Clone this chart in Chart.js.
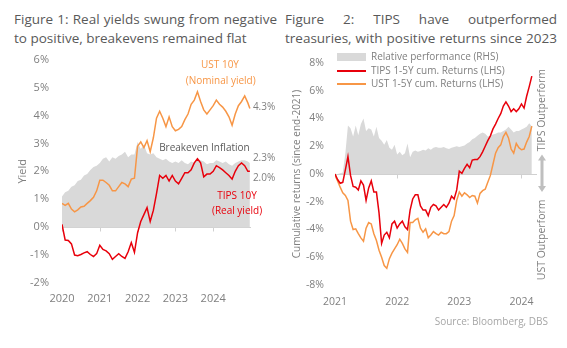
<!DOCTYPE html>
<html>
<head>
<meta charset="utf-8">
<script src="https://cdn.jsdelivr.net/npm/chart.js@4.4.1/dist/chart.umd.min.js"></script>
<style>
  body { margin: 0; width: 567px; height: 348px; background: #fff; font-family: 'Open Sans', sans-serif; position: relative; overflow: hidden; }
  .title { position: absolute; top: 10px; font-size: 13.5px; line-height: 18.5px; color: #595959; }
  .title .j { text-align: justify; text-align-last: justify; white-space: nowrap; }
  .title .l { white-space: nowrap; }
  .box { position: absolute; top: 40px; height: 270px; }
  #legend { position: absolute; left: 337px; top: 50px; font-size: 10px; color: #7f7f7f; }
  #legend .item { position: relative; height: 13.5px; }
  #legend .sw { position: absolute; left: 0; width: 29px; }
  #legend span { position: absolute; left: 34px; top: 0; line-height: 13px; white-space: nowrap; }
  #source { position: absolute; right: 19px; top: 314px; font-size: 10px; color: #a6a6a6; }
</style>
</head>
<body>
<div class="title" style="left:14px;width:263px">
  <div class="j">Figure 1: Real yields swung from negative</div>
  <div class="l">to positive, breakevens remained flat</div>
</div>
<div class="title" style="left:285px;width:272px">
  <div class="j">Figure 2: TIPS have outperformed</div>
  <div class="j">treasuries, with positive returns since 2023</div>
</div>
<div class="box" style="left:0;width:285px"><canvas id="c1" width="285" height="270"></canvas></div>
<div class="box" style="left:283px;width:284px"><canvas id="c2" width="284" height="270"></canvas></div>
<div id="legend"></div>
<div id="source">Source: Bloomberg, DBS</div>
<script>
// Figure 1: monthly, Jan-2020 .. Dec-2024 (last point late Dec)
const leftYears = [2020, 2021, 2022, 2023, 2024];
const ust10y = [
  0.85, 0.78, 0.85, 0.65, 0.55, 0.62, 0.72, 0.75, 0.85, 0.95, 1.07, 1.3,
  1.68, 1.68, 1.6, 1.5, 1.3, 1.3, 1.45, 1.6, 1.55, 1.45, 1.72, 1.75,
  2.9, 3.05, 2.85, 3.1, 2.7, 3.2, 3.9, 4.15, 3.9, 3.6, 3.95, 3.6,
  3.45, 3.5, 3.6, 3.85, 4.05, 4.4, 4.55, 4.85, 4.5, 4.2, 4.05, 4.2,
  4.35, 4.55, 4.4, 4.3, 4.15, 3.95, 3.65, 4.05, 4.35, 4.5, 4.7, 4.45, 4.25
];
const tips10y = [
  0.1, -0.46, -0.48, -0.6, -1.0, -1.02, -0.98, -0.92, -0.88, -0.98, -1.05, -0.95,
  -0.65, -0.8, -0.85, -0.95, -1.15, -1.05, -0.95, -1.05, -1.12, -0.88, -0.55, -0.9,
  -0.2, 0.2, 0.45, 0.7, 0.2, 0.6, 1.2, 1.85, 1.75, 1.85, 1.65, 1.85,
  1.65, 1.55, 1.75, 1.95, 1.95, 2.05, 2.3, 2.45, 2.3, 1.8, 1.9, 1.9,
  2.0, 2.2, 2.13, 2.05, 1.95, 1.85, 1.72, 2.0, 2.2, 2.3, 2.2, 2.0, 2.0
];
const breakeven = [
  1.1, 1.25, 1.3, 1.45, 1.5, 1.65, 1.7, 1.85, 1.9, 2.05, 2.15, 2.2,
  2.3, 2.45, 2.5, 2.35, 2.5, 2.45, 2.55, 2.6, 2.7, 2.5, 2.6, 2.6,
  3.05, 2.8, 2.95, 2.65, 2.6, 2.65, 2.5, 2.45, 2.4, 2.45, 2.35, 2.3,
  2.35, 2.3, 2.4, 2.3, 2.25, 2.35, 2.3, 2.45, 2.4, 2.35, 2.25, 2.3,
  2.3, 2.4, 2.35, 2.3, 2.35, 2.25, 2.2, 2.3, 2.35, 2.4, 2.4, 2.35, 2.3
];
const leftDates = ust10y.map((_, i) => i < 60 ? 2020 + i / 12 : 2024.97);

// Figure 2: semi-monthly, 2021 .. early 2024
const rightYears = [2021, 2022, 2023, 2024];
const tipsRet = [
  0, -0.4, -0.67, -0.6, 0.3, 1.25, -0.1, -0.9, -0.95, -1.15, -0.5, -0.8,
  -1.9, -1.0, -0.5, -1.3, -1.3, -2.8, -5.0, -4.4, -4.2, -4.6, -3.6, -3.4,
  -3.9, -3.6, -3.4, -3.8, -4.0, -2.6, -1.8, -1.5, -1.5, -2.3, -2.6, -2.6,
  -3.0, -2.4, -2.2, -2.3, -2.6, -2.4, -2.2, -2.4, -2.1, -1.6, -1.8, -1.15,
  0.2, 0.05, 0.4, 0.7, 0.45, 1.0, 1.05, 1.05, 1.25, 1.6, 2.0, 2.4,
  2.75, 3.25, 3.6, 4.0, 4.35, 4.9, 5.2, 4.9, 4.5, 4.7, 4.5, 4.7,
  5.05, 4.75, 5.6, 6.3, 7.05
];
const ustRet = [
  0, -0.5, -0.95, -1.35, -1.55, -1.9, -3.4, -4.0, -3.95, -4.3, -4.6, -4.85,
  -3.9, -3.5, -3.6, -4.3, -4.8, -5.5, -6.0, -6.6, -6.8, -6.1, -5.7, -5.4,
  -5.1, -4.7, -5.0, -5.4, -5.65, -3.5, -3.5, -3.3, -3.2, -3.9, -4.2, -3.95,
  -4.6, -4.4, -4.15, -4.3, -4.4, -4.2, -4.3, -4.3, -4.15, -3.4, -3.0, -1.9,
  -1.3, -1.6, -1.35, -1.5, -1.7, -1.55, -1.6, -2.1, -1.4, -1.2, -1.1, -0.6,
  -0.1, 0.7, 1.5, 1.9, 2.1, 2.7, 3.0, 2.6, 1.8, 1.5, 2.2, 1.9,
  1.75, 1.8, 2.3, 2.7, 3.45
];
const relPerf = [
  0, 0, 0.05, 0.1, 1.5, 3.5, 3.3, 2.7, 3.5, 2.8, 3.6, 4.0,
  3.1, 3.3, 3.2, 2.7, 3.4, 2.6, 2.4, 2.1, 2.45, 1.9, 1.75, 2.1,
  1.4, 1.6, 1.35, 1.5, 2.2, 1.2, 1.6, 1.7, 1.6, 1.65, 1.75, 1.7,
  1.85, 1.75, 1.9, 1.95, 1.9, 1.9, 1.95, 1.85, 1.8, 1.9, 1.95, 2.0,
  1.95, 2.0, 2.05, 2.2, 2.3, 2.5, 2.6, 2.75, 2.9, 3.0, 2.9, 2.7,
  2.75, 2.85, 2.9, 3.0, 3.0, 3.1, 3.2, 3.4, 3.2, 3.0, 3.1, 3.1,
  3.2, 3.3, 3.4, 3.65, 3.45
];
const rightDates = tipsRet.map((_, i) => 2021 + i / 24);

const RED = '#e8000b', ORANGE = '#f79646', FILLGREY = '#d9d9d9', TICK = '#7f7f7f';
const FONT = "'Open Sans', sans-serif";

const pts = (xs, ys) => ys.map((v, i) => ({ x: xs[i], y: v }));

// zero line with small year ticks hanging below it
const zeroTicks = {
  id: 'zeroTicks',
  beforeDatasetsDraw(chart) {
    const { ctx, chartArea, scales: { x, y } } = chart;
    const y0 = Math.round(y.getPixelForValue(0)) + 0.5;
    ctx.save();
    ctx.strokeStyle = '#d0d0d0';
    ctx.lineWidth = 1;
    ctx.beginPath();
    ctx.moveTo(chartArea.left, y0);
    ctx.lineTo(chartArea.right, y0);
    x.ticks.forEach(t => {
      const px = Math.round(x.getPixelForValue(t.value)) + 0.5;
      ctx.moveTo(px, y0);
      ctx.lineTo(px, y0 + 4);
    });
    ctx.stroke();
    ctx.restore();
  }
};

// free text labels placed in data coordinates
const notes = {
  id: 'notes',
  afterDatasetsDraw(chart, args, opts) {
    const { ctx, scales: { x, y } } = chart;
    ctx.save();
    ctx.textBaseline = 'middle';
    (opts.items || []).forEach(it => {
      ctx.font = (it.size || 10) + 'px ' + FONT;
      ctx.fillStyle = it.color;
      ctx.textAlign = it.align || 'center';
      const px = x.getPixelForValue(it.x), py = y.getPixelForValue(it.y);
      if (it.rotate) {
        ctx.save();
        ctx.translate(px, py);
        ctx.rotate(-Math.PI / 2);
        ctx.fillText(it.text, 0, 0);
        ctx.restore();
      } else {
        ctx.fillText(it.text, px, py);
      }
    });
    if (opts.arrow) {
      const a = opts.arrow;
      const px = Math.round(x.getPixelForValue(a.x));
      const top = y.getPixelForValue(a.from), bot = y.getPixelForValue(a.to);
      ctx.fillStyle = '#bfbfbf';
      ctx.fillRect(px - 1.5, top + 5, 3, bot - top - 10);
      ctx.beginPath();
      ctx.moveTo(px, top); ctx.lineTo(px + 4, top + 6); ctx.lineTo(px - 4, top + 6); ctx.closePath();
      ctx.moveTo(px, bot); ctx.lineTo(px + 4, bot - 6); ctx.lineTo(px - 4, bot - 6); ctx.closePath();
      ctx.fill();
    }
    ctx.restore();
  }
};

const fixedTicks = vals => scale => { scale.ticks = vals.map(v => ({ value: v })); };
const noGrid = { display: false, drawTicks: false };

new Chart(document.getElementById('c1'), {
  type: 'line',
  data: {
    datasets: [
      { label: 'Breakeven Inflation', data: pts(leftDates, breakeven), fill: 'origin',
        backgroundColor: FILLGREY, borderWidth: 0, pointRadius: 0, order: 3 },
      { label: 'UST 10Y', data: pts(leftDates, ust10y), borderColor: ORANGE, borderWidth: 1.5, pointRadius: 0, fill: false, order: 2 },
      { label: 'TIPS 10Y', data: pts(leftDates, tips10y), borderColor: RED, borderWidth: 1.5, pointRadius: 0, fill: false, order: 1 }
    ]
  },
  options: {
    responsive: false, animation: false, devicePixelRatio: 1,
    layout: { padding: { top: 17, right: 34 } },
    plugins: {
      legend: { display: false }, tooltip: { enabled: false },
      notes: { items: [
        { text: 'UST 10Y', x: 2024.18, y: 5.8, color: ORANGE },
        { text: '(Nominal yield)', x: 2024.2, y: 5.24, color: ORANGE },
        { text: '4.3%', x: 2025.05, y: 4.28, color: TICK, align: 'left' },
        { text: 'Breakeven Inflation', x: 2022.57, y: 2.83, color: '#595959', align: 'left' },
        { text: '2.3%', x: 2025.05, y: 2.47, color: TICK, align: 'left' },
        { text: '2.0%', x: 2025.05, y: 1.77, color: TICK, align: 'left' },
        { text: 'TIPS 10Y', x: 2024.63, y: 1.1, color: RED },
        { text: '(Real yield)', x: 2024.63, y: 0.57, color: RED }
      ] }
    },
    scales: {
      x: {
        type: 'linear', min: 2020, max: 2025,
        afterBuildTicks: fixedTicks(leftYears),
        afterFit: s => { s.height = 27; },
        grid: noGrid, border: { display: false },
        ticks: { color: TICK, font: { family: FONT, size: 11 }, padding: 9, maxRotation: 0, autoSkip: false,
                 callback: v => String(v) }
      },
      y: {
        min: -2, max: 6,
        afterFit: s => { s.width = 62; },
        grid: noGrid, border: { display: false },
        ticks: { stepSize: 1, color: TICK, font: { family: FONT, size: 11 }, padding: 13, callback: v => v + '%' },
        title: { display: true, text: 'Yield', color: TICK, font: { family: FONT, size: 11 }, padding: { top: 16, bottom: 0 } }
      }
    }
  },
  plugins: [zeroTicks, notes]
});

const rightSets = [
  { label: 'Relative performance (RHS)', data: pts(rightDates, relPerf), fill: 'origin',
    backgroundColor: FILLGREY, borderWidth: 0, pointRadius: 0, order: 3 },
  { label: 'TIPS 1-5Y cum. Returns (LHS)', data: pts(rightDates, tipsRet), borderColor: RED, borderWidth: 1.5, pointRadius: 0, fill: false, order: 1 },
  { label: 'UST 1-5Y cum. Returns (LHS)', data: pts(rightDates, ustRet), borderColor: ORANGE, borderWidth: 1.5, pointRadius: 0, fill: false, order: 2 }
];

new Chart(document.getElementById('c2'), {
  type: 'line',
  data: { datasets: rightSets },
  options: {
    responsive: false, animation: false, devicePixelRatio: 1,
    layout: { padding: { top: 23, right: 30 } },
    plugins: {
      legend: { display: false }, tooltip: { enabled: false },
      notes: {
        items: [
          { text: 'TIPS Outperform', x: 2024.33, y: 4.6, color: TICK, rotate: true, size: 10.5 },
          { text: 'UST Outperform', x: 2024.33, y: -4.75, color: TICK, rotate: true, size: 10.5 }
        ],
        arrow: { x: 2024.33, from: 1.4, to: -1.3 }
      }
    },
    scales: {
      x: {
        type: 'linear', min: 2021, max: 2024.25,
        afterBuildTicks: fixedTicks(rightYears),
        afterFit: s => { s.height = 25; },
        grid: noGrid, border: { display: false },
        ticks: { color: TICK, font: { family: FONT, size: 10.5 }, padding: 11, maxRotation: 0, autoSkip: false,
                 callback: v => String(v) }
      },
      y: {
        min: -8, max: 8,
        afterFit: s => { s.width = 52; },
        grid: noGrid, border: { display: false },
        ticks: { stepSize: 2, color: TICK, font: { family: FONT, size: 10.5 }, padding: 11, callback: v => v + '%' },
        title: { display: true, text: 'Cumulative returns (since end-2021)', color: TICK,
                 font: { family: FONT, size: 10 }, padding: { top: 8, bottom: 0 } }
      }
    }
  },
  plugins: [zeroTicks, notes]
});

// legend (sits inside the plot area, top-left)
const legend = document.getElementById('legend');
rightSets.forEach(ds => {
  const item = document.createElement('div');
  item.className = 'item';
  const sw = document.createElement('div');
  sw.className = 'sw';
  if (ds.fill) { sw.style.cssText = 'top:3px;height:8px;background:' + ds.backgroundColor; }
  else { sw.style.cssText = 'top:6px;height:' + (ds.borderColor === RED ? 2 : 1.5) + 'px;background:' + ds.borderColor; }
  const tx = document.createElement('span');
  tx.textContent = ds.label;
  item.appendChild(sw); item.appendChild(tx);
  legend.appendChild(item);
});
</script>
</body>
</html>
